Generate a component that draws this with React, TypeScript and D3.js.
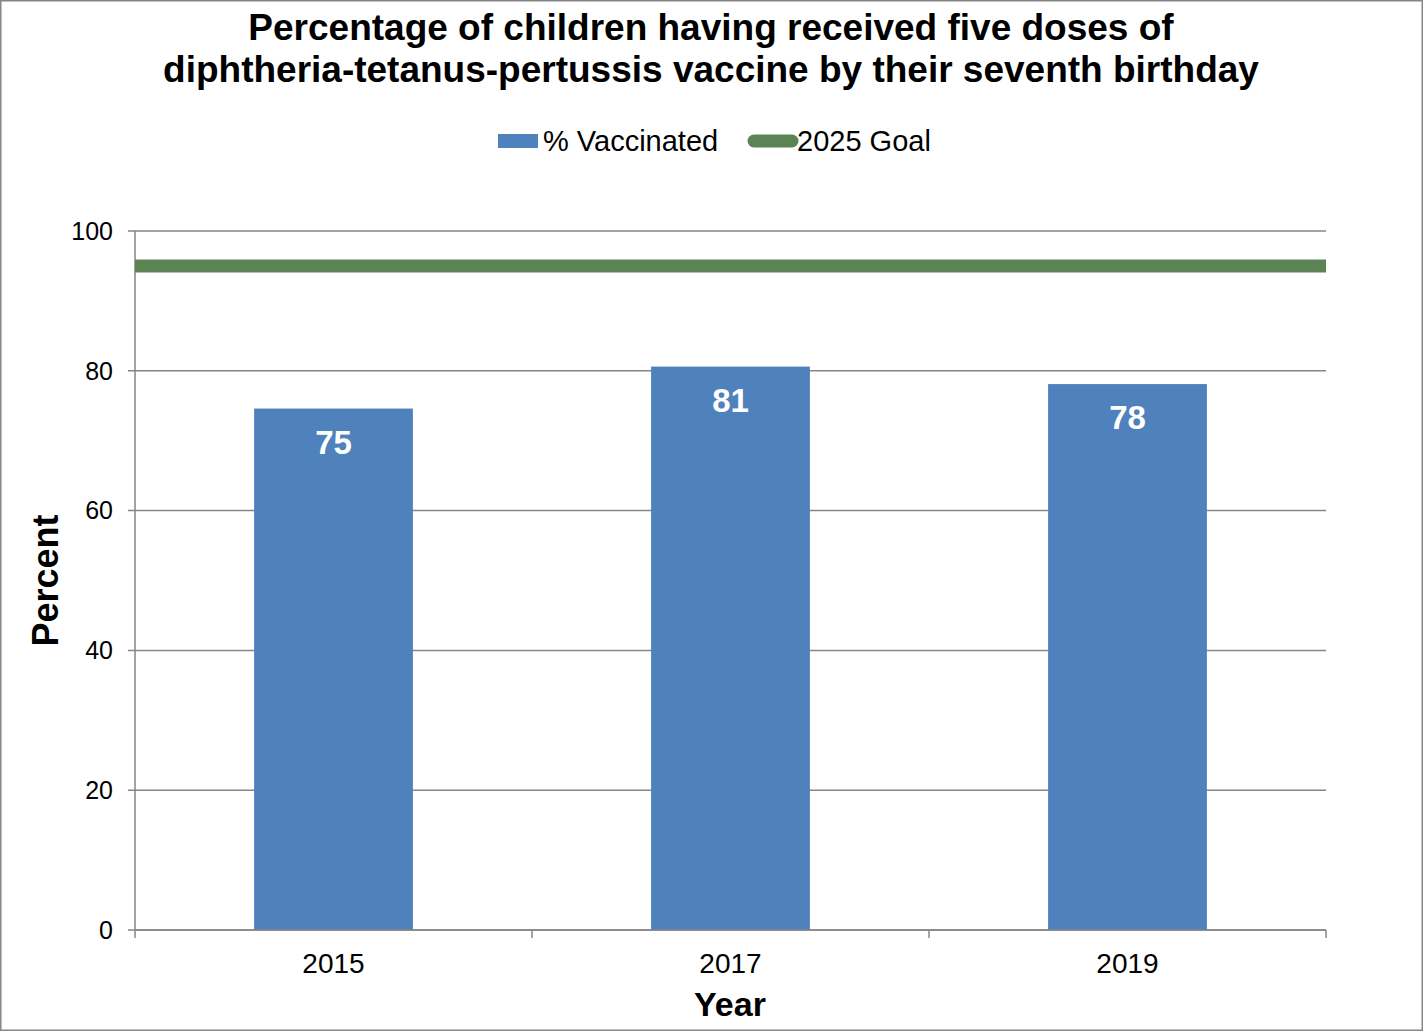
import * as d3 from "d3";

// values
const years = ["2015", "2017", "2019"];
const vaccinated = [74.6, 80.6, 78.1];
const goal = 95;
const yTicks = [0, 20, 40, 60, 80, 100];
const titleLines = [
  "Percentage of children having received five doses of",
  "diphtheria-tetanus-pertussis vaccine by their seventh birthday",
];

const WIDTH = 1423;
const HEIGHT = 1031;
const MARGIN = { top: 231, right: 97, bottom: 101, left: 135 };

const BAR = "#4f81bd";
const GOAL = "#5b8353";
const GRID = "#868686";
const FONT = "Arial, 'Liberation Sans', sans-serif";

export default function App() {
  const x = d3
    .scaleBand<string>()
    .domain(years)
    .range([MARGIN.left, WIDTH - MARGIN.right])
    .paddingInner(0.6)
    .paddingOuter(0.3);

  // band boundaries for the category ticks
  const step = (WIDTH - MARGIN.right - MARGIN.left) / years.length;
  const boundaries = d3.range(years.length + 1).map((i) => MARGIN.left + i * step);

  const y = d3
    .scaleLinear()
    .domain([0, 100])
    .range([HEIGHT - MARGIN.bottom, MARGIN.top]);

  const fmt = d3.format(".0f");

  return (
    <div style={{ position: "absolute", left: 0, top: 0 }}>
      <svg width={WIDTH} height={HEIGHT} style={{ fontFamily: FONT, display: "block" }}>
        <rect x={0.75} y={0.75} width={WIDTH - 1.5} height={HEIGHT - 1.5} fill="#fff" stroke={GRID} strokeWidth={1.5} />

        {/* title */}
        {titleLines.map((t, i) => (
          <text key={t} x={711} y={40 + i * 42} textAnchor="middle" fontSize={37} fontWeight="bold">
            {t}
          </text>
        ))}

        {/* legend */}
        <rect x={498} y={134} width={40} height={14} fill={BAR} />
        <text x={543} y={151} fontSize={29}>% Vaccinated</text>
        <line x1={754} x2={792} y1={141} y2={141} stroke={GOAL} strokeWidth={13} strokeLinecap="round" />
        <text x={797} y={151} fontSize={29}>2025 Goal</text>

        {/* grid */}
        {yTicks.map((t) => (
          <g key={t}>
            <line x1={MARGIN.left - 7} x2={WIDTH - MARGIN.right} y1={y(t)} y2={y(t)} stroke={GRID} strokeWidth={1.5} />
            <text x={MARGIN.left - 22} y={y(t)} dy="0.35em" textAnchor="end" fontSize={25}>
              {t}
            </text>
          </g>
        ))}

        {/* y axis */}
        <line x1={MARGIN.left} x2={MARGIN.left} y1={y(100)} y2={y(0)} stroke={GRID} strokeWidth={1.5} />

        {/* bars */}
        {years.map((yr, i) => (
          <g key={yr}>
            <rect x={x(yr)} y={y(vaccinated[i])} width={x.bandwidth()} height={y(0) - y(vaccinated[i])} fill={BAR} />
            <text
              x={(x(yr) || 0) + x.bandwidth() / 2}
              y={y(vaccinated[i]) + 45}
              textAnchor="middle"
              fontSize={33}
              fontWeight="bold"
              fill="#fff"
            >
              {fmt(vaccinated[i])}
            </text>
          </g>
        ))}

        {/* goal line */}
        <line x1={MARGIN.left} x2={WIDTH - MARGIN.right} y1={y(goal)} y2={y(goal)} stroke={GOAL} strokeWidth={13} />

        {/* x axis */}
        <line x1={MARGIN.left} x2={WIDTH - MARGIN.right} y1={y(0)} y2={y(0)} stroke={GRID} strokeWidth={1.5} />
        {boundaries.map((b) => (
          <line key={b} x1={b} x2={b} y1={y(0)} y2={y(0) + 8} stroke={GRID} strokeWidth={1.5} />
        ))}
        {years.map((yr) => (
          <text key={yr} x={(x(yr) || 0) + x.bandwidth() / 2} y={973} textAnchor="middle" fontSize={28}>
            {yr}
          </text>
        ))}

        {/* axis titles */}
        <text x={730} y={1016} textAnchor="middle" fontSize={34} fontWeight="bold">Year</text>
        <text
          transform={`translate(58,${(y(0) + y(100)) / 2}) rotate(-90)`}
          textAnchor="middle"
          fontSize={36}
          fontWeight="bold"
        >
          Percent
        </text>
      </svg>
    </div>
  );
}
